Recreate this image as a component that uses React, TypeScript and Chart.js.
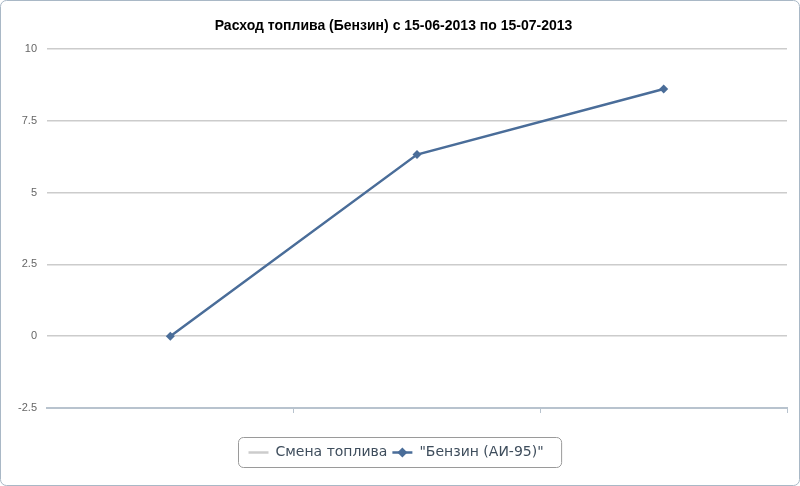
import React, { useEffect, useRef } from "react";
import { Chart, registerables } from "chart.js";

Chart.register(...registerables);

const TITLE = "Расход топлива (Бензин) с 15-06-2013 по 15-07-2013";
const categories = ["", "", ""];
const fuelChangeLabel = "Смена топлива";
const fuelChangeValues: (number | null)[] = [null, null, null];
const petrolLabel = "\"Бензин (АИ-95)\"";
const petrolValues = [0, 6.32, 8.6];
const yMin = -2.5;
const yMax = 10;
const yStep = 2.5;

const BLUE = "#4a6d99";
const GRAY_LEGEND = "#cccccc";

const framePlugin = {
  id: "frameAndLegend",
  afterDraw(chart: any) {
    const ctx = chart.ctx as CanvasRenderingContext2D;
    const W = chart.width;
    const H = chart.height;
    ctx.save();
    // outer frame
    ctx.strokeStyle = "#a9b8c6";
    ctx.lineWidth = 1;
    ctx.beginPath();
    (ctx as any).roundRect(0.5, 0.5, W - 1, H - 1, 6);
    ctx.stroke();

    // custom legend
    ctx.font = "14px 'DejaVu Sans'";
    const ds = chart.data.datasets;
    const sym = 20;
    const gap = 7;
    const items = ds.map((d: any) => ({ d, w: sym + gap + ctx.measureText(d.label).width }));
    const spacing = 5;
    const padL = 10;
    const padR = 18;
    const total = items.reduce((s: number, it: any) => s + it.w, 0) + spacing * (items.length - 1);
    const boxW = total + padL + padR;
    const boxH = 30;
    const bx = Math.round(W / 2 - boxW / 2) + 0.5;
    const by = 437.5;
    ctx.strokeStyle = "#9a9a9a";
    ctx.lineWidth = 1;
    ctx.beginPath();
    (ctx as any).roundRect(bx, by, boxW, boxH, 5);
    ctx.stroke();
    let x = bx + padL;
    const cy = by + boxH / 2;
    items.forEach((it: any) => {
      const d = it.d;
      ctx.strokeStyle = d.borderColor;
      ctx.lineWidth = 2.5;
      ctx.beginPath();
      ctx.moveTo(x, cy);
      ctx.lineTo(x + sym, cy);
      ctx.stroke();
      if (d.pointRadius > 0) {
        ctx.fillStyle = d.borderColor;
        const r = 5;
        ctx.beginPath();
        ctx.moveTo(x + sym / 2, cy - r);
        ctx.lineTo(x + sym / 2 + r, cy);
        ctx.lineTo(x + sym / 2, cy + r);
        ctx.lineTo(x + sym / 2 - r, cy);
        ctx.closePath();
        ctx.fill();
      }
      ctx.fillStyle = "#3e4d5c";
      ctx.textBaseline = "middle";
      ctx.textAlign = "left";
      ctx.fillText(d.label, x + sym + gap, cy);
      x += it.w + spacing;
    });
    ctx.restore();
  },
};

export default function App() {
  const ref = useRef<HTMLCanvasElement | null>(null);
  useEffect(() => {
    document.body.style.margin = "0";
    const canvas = ref.current!;
    const chart = new Chart(canvas, {
      type: "line",
      data: {
        labels: categories,
        datasets: [
          {
            label: fuelChangeLabel,
            data: fuelChangeValues,
            borderColor: GRAY_LEGEND,
            backgroundColor: GRAY_LEGEND,
            pointRadius: 0,
            borderWidth: 2.5,
          },
          {
            label: petrolLabel,
            data: petrolValues,
            borderColor: BLUE,
            backgroundColor: BLUE,
            borderWidth: 2.5,
            pointStyle: "rectRot",
            pointRadius: 4.5,
            pointBorderWidth: 0,
            tension: 0,
          },
        ],
      },
      options: {
        responsive: false,
        animation: false,
        layout: { padding: { left: 0, right: 13, top: 0, bottom: 0 } },
        plugins: {
          legend: { display: false },
          tooltip: { enabled: false },
          title: {
            display: true,
            text: TITLE,
            color: "#000",
            font: { family: "'Liberation Sans', Arial", size: 14, weight: "bold" },
            padding: { top: 18, bottom: 14 },
          },
        },
        scales: {
          x: {
            offset: true,
            grid: {
              offset: true,
              drawOnChartArea: false,
              drawTicks: true,
              tickLength: 5,
              color: (c: any) => (c.index === 0 ? "rgba(0,0,0,0)" : "#b8c3ce"),
            },
            border: { display: true, color: "#b8c3ce", width: 2 },
            ticks: { display: true, font: { size: 1 } },
            afterFit: (scale: any) => {
              scale.height = 78;
            },
          },
          y: {
            min: yMin,
            max: yMax,
            ticks: {
              stepSize: yStep,
              color: "#666",
              padding: 10,
              font: { family: "'Liberation Sans', Arial", size: 11 },
            },
            grid: { color: "#cccccc", lineWidth: 1.5, drawTicks: false },
            border: { display: false },
            afterFit: (scale: any) => {
              scale.width = 47;
            },
          },
        },
      },
      plugins: [framePlugin],
    } as any);
    return () => chart.destroy();
  }, []);
  return (
    <div style={{ position: "absolute", left: 0, top: 0, width: 800, height: 486, background: "#fff" }}>
      <canvas ref={ref} width={800} height={486} style={{ width: 800, height: 486, display: "block" }} />
    </div>
  );
}
